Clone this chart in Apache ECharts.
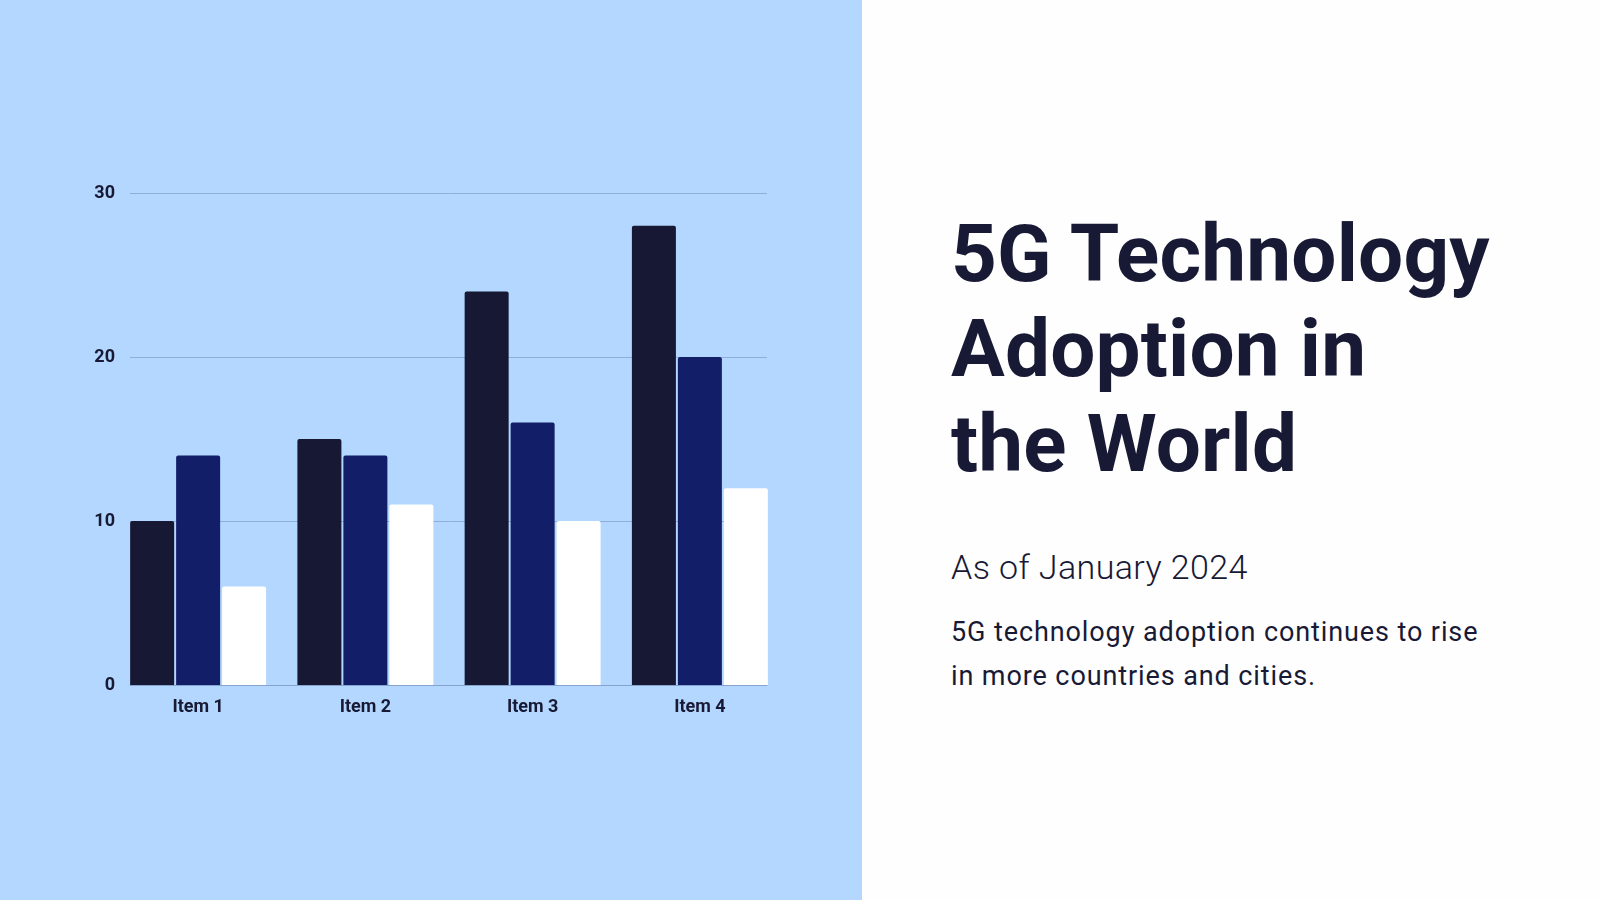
<!DOCTYPE html>
<html lang="en">
<head>
    <meta charset="UTF-8">
    <title>5G Technology Adoption</title>
    <script src="https://cdn.jsdelivr.net/npm/echarts@6/dist/echarts.min.js"></script>
    <style>
        * {
            margin: 0;
            padding: 0
        }

        html, body {
            width: 1600px;
            height: 900px;
            background: #fefefe;
            overflow: hidden;
            font-family: Roboto, "Noto Sans", sans-serif;
            color: #181a35;
        }

        #main {
            position: absolute;
            left: 0;
            top: 0;
            width: 862px;
            height: 900px;
            background: #b3d7fe;
        }

        .title {
            position: absolute;
            left: 951px;
            top: 207px;
            font-size: 80px;
            font-weight: 700;
            line-height: 95px;
            letter-spacing: 0.2px;
            white-space: nowrap;
        }

        .sub {
            position: absolute;
            left: 951px;
            top: 547px;
            font-size: 34px;
            font-weight: 300;
            line-height: 40px;
            letter-spacing: 0.4px;
            white-space: nowrap;
        }

        .desc {
            position: absolute;
            left: 951px;
            top: 610px;
            font-size: 27px;
            font-weight: 400;
            line-height: 44px;
            letter-spacing: 0.9px;
            white-space: nowrap;
        }
    </style>
</head>
<body>
<div id="main"></div>
<div class="title">5G Technology<br>Adoption in<br>the World</div>
<div class="sub">As of January 2024</div>
<div class="desc">5G technology adoption continues to rise<br>in more countries and cities.</div>
<script type="text/javascript">
    // data
    var categories = ['Item 1', 'Item 2', 'Item 3', 'Item 4'];
    var series1 = [10, 15, 24, 28];
    var series2 = [14, 14, 16, 20];
    var series3 = [6, 11, 10, 12];
    var yTicks = [0, 10, 20, 30];

    var textColor = '#181a35';
    var myChart = echarts.init(document.getElementById('main'));

    // grid 0 holds the bars, grid 1 only draws the gridlines / axis line / y labels
    var option = {
        animation: false,
        grid: [
            {left: 114.5, right: 78.5, top: 193, bottom: 215},
            {left: 130, width: 637, top: 193, bottom: 215}
        ],
        xAxis: [
            {
                type: 'category',
                gridIndex: 0,
                data: categories,
                axisLine: {show: false},
                axisTick: {show: false},
                axisLabel: {
                    color: textColor,
                    fontFamily: 'Roboto',
                    fontWeight: 'bold',
                    fontSize: 18,
                    margin: 13
                }
            },
            {
                type: 'category',
                gridIndex: 1,
                data: categories,
                axisLine: {show: true, lineStyle: {color: '#86a3cf', width: 1}},
                axisTick: {show: false},
                axisLabel: {show: false}
            }
        ],
        yAxis: [
            {
                type: 'value',
                gridIndex: 0,
                min: yTicks[0],
                max: yTicks[yTicks.length - 1],
                interval: 10,
                axisLabel: {show: false},
                splitLine: {show: false},
                axisLine: {show: false},
                axisTick: {show: false}
            },
            {
                type: 'value',
                gridIndex: 1,
                min: yTicks[0],
                max: yTicks[yTicks.length - 1],
                interval: 10,
                axisLine: {show: false},
                axisTick: {show: false},
                axisLabel: {
                    color: textColor,
                    fontFamily: 'Roboto',
                    fontWeight: 'bold',
                    fontSize: 18,
                    margin: 15
                },
                splitLine: {lineStyle: {color: '#8eaedc', width: 1}}
            }
        ],
        series: [
            {
                name: 'Series 1',
                type: 'bar',
                xAxisIndex: 0,
                yAxisIndex: 0,
                barWidth: 44,
                barGap: '4.5%',
                data: series1,
                itemStyle: {color: '#171833', borderRadius: [2, 2, 0, 0]}
            },
            {
                name: 'Series 2',
                type: 'bar',
                xAxisIndex: 0,
                yAxisIndex: 0,
                barWidth: 44,
                barGap: '4.5%',
                data: series2,
                itemStyle: {color: '#121f68', borderRadius: [2, 2, 0, 0]}
            },
            {
                name: 'Series 3',
                type: 'bar',
                xAxisIndex: 0,
                yAxisIndex: 0,
                barWidth: 44,
                barGap: '4.5%',
                data: series3,
                itemStyle: {color: '#ffffff', borderRadius: [2, 2, 0, 0]}
            }
        ]
    };

    myChart.setOption(option);
</script>
</body>
</html>
